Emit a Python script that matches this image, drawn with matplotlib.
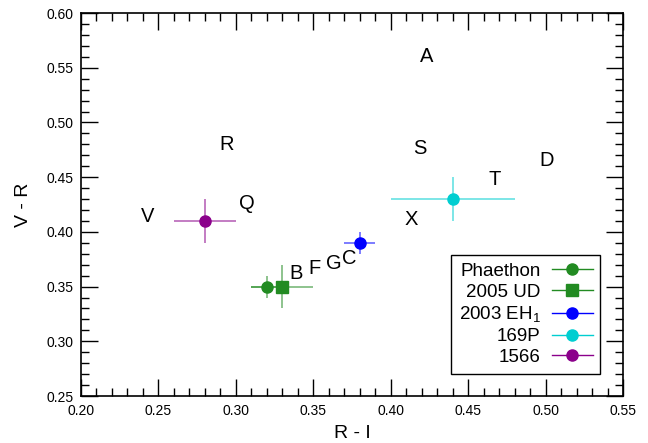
import numpy as np
import matplotlib
matplotlib.use("Agg")
import matplotlib.pyplot as plt
from matplotlib.lines import Line2D
from matplotlib.ticker import MultipleLocator

plt.rcParams["font.family"] = ["Liberation Sans", "DejaVu Sans"]
plt.rcParams["mathtext.fontset"] = "custom"
plt.rcParams["mathtext.rm"] = "Liberation Sans"
plt.rcParams["mathtext.it"] = "Liberation Sans:italic"

# measured colours with 1-sigma errors
names = ["Phaethon", "2005 UD", "2003 EH$_1$", "169P", "1566"]
r_i = [0.32, 0.33, 0.38, 0.44, 0.28]
r_i_err = [0.01, 0.02, 0.01, 0.04, 0.02]
v_r = [0.35, 0.35, 0.39, 0.43, 0.41]
v_r_err = [0.01, 0.02, 0.01, 0.02, 0.02]
colors = ["#228b22", "#228b22", "#0000ff", "#00ced1", "#8b008b"]
markers = ["o", "s", "o", "o", "o"]

# taxonomic class centres
classes = ["A", "R", "S", "D", "T", "Q", "V", "X", "B", "F", "G", "C"]
class_ri = [0.423, 0.294, 0.419, 0.501, 0.467, 0.307, 0.243, 0.413, 0.339, 0.351, 0.363, 0.373]
class_vr = [0.560, 0.480, 0.476, 0.465, 0.448, 0.426, 0.414, 0.411, 0.362, 0.367, 0.371, 0.376]

fig = plt.figure(figsize=(6.48, 4.43), dpi=100)
ax = fig.add_axes([0.125, 0.106, 0.8364, 0.8646])

for c, x, y in zip(classes, class_ri, class_vr):
    ax.text(x, y, c, fontsize=14.5, ha="center", va="center")

handles = []
for name, x, xe, y, ye, col, m in zip(names, r_i, r_i_err, v_r, v_r_err, colors, markers):
    ax.errorbar(x, y, xerr=xe, yerr=ye, fmt="none", ecolor=col, alpha=0.6,
                elinewidth=1.2, capsize=0)
    ax.plot(x, y, marker=m, color=col, markersize=8 if m == "o" else 9,
            linestyle="none", zorder=3)
    handles.append(Line2D([], [], color=col, marker=m, lw=1.0,
                          markersize=8 if m == "o" else 9, label=name))

leg = ax.legend(handles=handles, loc="lower right", markerfirst=False,
                fontsize=13.5, frameon=True, fancybox=False, edgecolor="black",
                framealpha=1, labelspacing=0.2, handlelength=2.2,
                handletextpad=0.6, borderaxespad=1.2, borderpad=0.4)
leg.get_frame().set_linewidth(1.0)

ax.set_xlim(0.20, 0.55)
ax.set_ylim(0.25, 0.60)
ax.xaxis.set_major_locator(MultipleLocator(0.05))
ax.xaxis.set_minor_locator(MultipleLocator(0.01))
ax.yaxis.set_major_locator(MultipleLocator(0.05))
ax.yaxis.set_minor_locator(MultipleLocator(0.01))
ax.xaxis.set_major_formatter(plt.FormatStrFormatter("%.2f"))
ax.yaxis.set_major_formatter(plt.FormatStrFormatter("%.2f"))
ax.tick_params(which="both", direction="in", top=True, right=True,
               labelsize=10, width=1.0)
ax.tick_params(which="major", length=12)
ax.tick_params(axis="x", which="both", pad=6)
ax.tick_params(axis="y", which="both", pad=5.5)
ax.tick_params(which="minor", length=6)
for s in ax.spines.values():
    s.set_linewidth(1.2)

ax.set_xlabel("R - I", fontsize=14, labelpad=5)
ax.set_ylabel("V - R", fontsize=14, labelpad=10)

fig.savefig("out.png", dpi=100)
